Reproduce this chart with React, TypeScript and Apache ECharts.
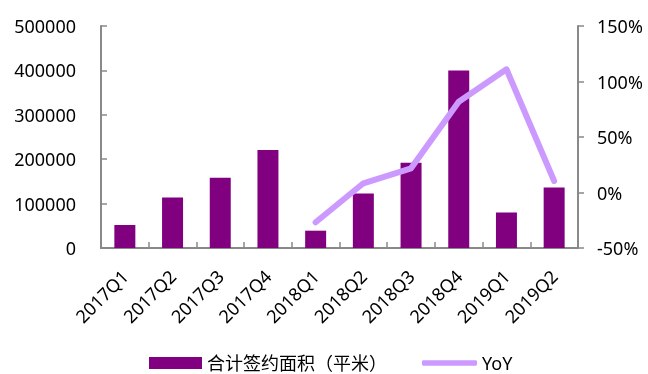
import React, { useEffect, useRef } from "react";
import * as echarts from "echarts";

const categories = ["2017Q1", "2017Q2", "2017Q3", "2017Q4", "2018Q1", "2018Q2", "2018Q3", "2018Q4", "2019Q1", "2019Q2"];
const areaValues = [52000, 114000, 158000, 221000, 39000, 123000, 192000, 400000, 80000, 136000];
const yoyValues: (number | null)[] = [null, null, null, null, -26.8, 8.3, 21.8, 81.8, 111, 10.4];
const barName = "合计签约面积（平米）";
const lineName = "YoY";

const FONT = "'Noto Sans', 'Noto Sans CJK SC', sans-serif";

export default function App() {
  const ref = useRef<HTMLDivElement>(null);
  useEffect(() => {
    if (!ref.current) return;
    const chart = echarts.init(ref.current, undefined, { renderer: "svg" });
    const axisColor = "#898989";
    chart.setOption({
      animation: false,
      textStyle: { fontFamily: FONT },
      grid: { left: 101, right: 70, top: 26, bottom: 126, containLabel: false },
      legend: [
        {
          left: 149,
          top: 354,
          padding: 0,
          itemWidth: 53,
          itemHeight: 12,
          textStyle: { fontSize: 18, lineHeight: 16, color: "#000", fontFamily: FONT },
          data: [{ name: barName, icon: "rect" }],
        },
        {
          left: 422,
          top: 354,
          padding: 0,
          itemWidth: 55,
          itemHeight: 5.5,
          textStyle: { fontSize: 18, lineHeight: 16, color: "#000", fontFamily: FONT },
          data: [{ name: lineName, icon: "roundRect" }],
        },
      ],
      xAxis: {
        type: "category",
        data: categories,
        axisLine: { lineStyle: { color: axisColor, width: 2 } },
        axisTick: { show: true, inside: true, alignWithLabel: false, length: 6, lineStyle: { color: axisColor, width: 1.5 } },
        axisLabel: { rotate: 45, fontSize: 18, color: "#000", margin: 25, interval: 0, fontFamily: FONT },
      },
      yAxis: [
        {
          type: "value",
          min: 0,
          max: 500000,
          interval: 100000,
          splitLine: { show: false },
          axisLine: { show: true, lineStyle: { color: axisColor, width: 2 } },
          axisTick: { show: true, inside: true, length: 6, lineStyle: { color: axisColor, width: 1.5 } },
          axisLabel: { fontSize: 18, color: "#000", margin: 25, fontFamily: FONT, formatter: (v: number) => String(v) },
        },
        {
          type: "value",
          min: -50,
          max: 150,
          interval: 50,
          splitLine: { show: false },
          axisLine: { show: true, lineStyle: { color: axisColor, width: 2 } },
          axisTick: { show: true, inside: false, length: 6, lineStyle: { color: axisColor, width: 1.5 } },
          axisLabel: { fontSize: 18, color: "#000", margin: 19, formatter: "{value}%", fontFamily: FONT },
        },
      ],
      series: [
        {
          name: barName,
          type: "bar",
          data: areaValues,
          barWidth: "44%",
          itemStyle: { color: "#800080" },
        },
        {
          name: lineName,
          type: "line",
          yAxisIndex: 1,
          data: yoyValues,
          symbol: "none",
          connectNulls: false,
          lineStyle: { color: "#CC99FF", width: 6, cap: "round", join: "round" },
          itemStyle: { color: "#CC99FF" },
        },
      ],
    });
    return () => chart.dispose();
  }, []);
  return <div ref={ref} style={{ position: "fixed", left: 0, top: 0, width: 648, height: 374 }} />;
}
